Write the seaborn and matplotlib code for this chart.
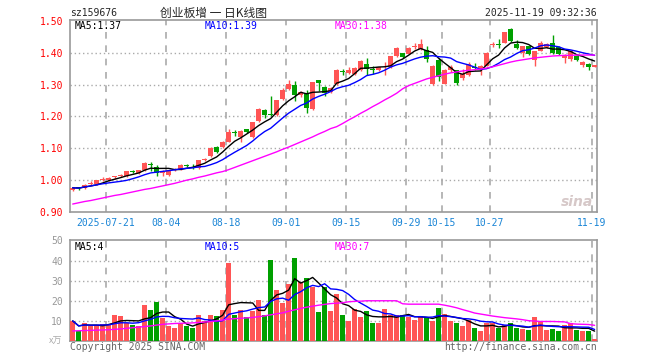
import numpy as np
import pandas as pd
import matplotlib
matplotlib.use("Agg")
import matplotlib.pyplot as plt
import seaborn as sns

# daily candles of sz159676 (07-11 .. 11-19)
opens = [0.970, 0.976, 0.975, 0.988, 0.988, 1.002, 1.000, 1.009, 1.014, 1.013,
         1.029, 1.022, 1.031, 1.050, 1.041, 1.021, 1.015, 1.031, 1.035, 1.049,
         1.045, 1.038, 1.062, 1.075, 1.104, 1.104, 1.121, 1.151, 1.137, 1.160,
         1.135, 1.186, 1.220, 1.208, 1.204, 1.254, 1.285, 1.298, 1.269, 1.275,
         1.222, 1.314, 1.293, 1.277, 1.301, 1.341, 1.337, 1.334, 1.345, 1.364,
         1.348, 1.345, 1.354, 1.355, 1.389, 1.399, 1.397, 1.419, 1.411, 1.409,
         1.301, 1.376, 1.303, 1.345, 1.345, 1.322, 1.329, 1.354, 1.345, 1.360,
         1.425, 1.427, 1.432, 1.476, 1.428, 1.401, 1.420, 1.378, 1.407, 1.418,
         1.430, 1.418, 1.384, 1.381, 1.389, 1.361, 1.366, 1.357]
closes = [0.976, 0.974, 0.986, 0.991, 1.000, 1.005, 1.008, 1.011, 1.016, 1.028,
          1.027, 1.031, 1.055, 1.047, 1.024, 1.028, 1.031, 1.036, 1.049, 1.043,
          1.043, 1.062, 1.068, 1.102, 1.090, 1.121, 1.150, 1.148, 1.155, 1.151,
          1.182, 1.222, 1.206, 1.206, 1.251, 1.283, 1.301, 1.268, 1.277, 1.227,
          1.307, 1.305, 1.275, 1.290, 1.347, 1.339, 1.345, 1.352, 1.374, 1.350,
          1.346, 1.355, 1.356, 1.389, 1.416, 1.386, 1.416, 1.421, 1.429, 1.381,
          1.360, 1.324, 1.345, 1.357, 1.305, 1.332, 1.366, 1.352, 1.360, 1.401,
          1.427, 1.425, 1.464, 1.436, 1.416, 1.420, 1.395, 1.405, 1.432, 1.428,
          1.399, 1.395, 1.394, 1.407, 1.376, 1.372, 1.355, 1.361]
highs = [0.980, 0.980, 0.988, 0.996, 1.002, 1.010, 1.010, 1.013, 1.020, 1.030,
         1.033, 1.033, 1.056, 1.057, 1.049, 1.031, 1.032, 1.038, 1.050, 1.052,
         1.050, 1.063, 1.070, 1.104, 1.106, 1.123, 1.161, 1.158, 1.157, 1.162,
         1.184, 1.226, 1.225, 1.264, 1.253, 1.290, 1.314, 1.311, 1.281, 1.282,
         1.309, 1.315, 1.296, 1.292, 1.349, 1.350, 1.355, 1.354, 1.376, 1.385,
         1.360, 1.357, 1.370, 1.391, 1.418, 1.401, 1.418, 1.430, 1.442, 1.423,
         1.362, 1.385, 1.350, 1.362, 1.347, 1.350, 1.371, 1.368, 1.362, 1.403,
         1.433, 1.444, 1.466, 1.478, 1.441, 1.422, 1.422, 1.407, 1.437, 1.431,
         1.457, 1.420, 1.396, 1.409, 1.391, 1.374, 1.368, 1.363]
lows = [0.966, 0.970, 0.973, 0.984, 0.986, 0.998, 0.998, 1.005, 1.010, 1.011,
        1.024, 1.019, 1.029, 1.030, 1.014, 1.014, 1.012, 1.029, 1.033, 1.040,
        1.035, 1.036, 1.060, 1.073, 1.086, 1.101, 1.119, 1.140, 1.121, 1.148,
        1.133, 1.184, 1.195, 1.203, 1.202, 1.252, 1.283, 1.248, 1.261, 1.210,
        1.220, 1.280, 1.265, 1.275, 1.299, 1.330, 1.335, 1.331, 1.343, 1.330,
        1.335, 1.343, 1.330, 1.353, 1.386, 1.383, 1.395, 1.412, 1.409, 1.371,
        1.299, 1.310, 1.301, 1.340, 1.300, 1.315, 1.327, 1.345, 1.330, 1.358,
        1.418, 1.415, 1.430, 1.434, 1.413, 1.387, 1.393, 1.360, 1.405, 1.416,
        1.397, 1.393, 1.368, 1.374, 1.374, 1.357, 1.347, 1.355]
volumes = [10, 5, 9, 7.5, 8, 8.5, 8, 13, 12.5, 9,
           8, 7.5, 18, 15.5, 19.5, 11.5, 7.5, 6.5, 9, 7.5,
           6.5, 13, 10, 13, 12.5, 15.5, 39, 13, 15.5, 12,
           15, 20.5, 13, 40.5, 25.5, 19, 28.5, 41.5, 29.5, 31.5,
           27, 14.5, 27, 15, 23.3, 12.8, 9.8, 15.8, 11.8, 14.8,
           8.8, 8.8, 15.8, 12.8, 12.8, 12.8, 11.8, 10.3, 12.3, 11.8,
           9.8, 16.3, 13.3, 9.8, 8.8, 7.3, 10.3, 6.3, 4.8, 8.8,
           8.8, 6.3, 7.8, 8.8, 6.3, 5.8, 5.3, 11.8, 9.3, 5.3,
           5.8, 4.8, 7.8, 8.8, 5.3, 4.8, 4.8, 0.8]
# 30-day averages as drawn (they need history from before the window)
ma30_price = [0.925, 0.929, 0.933, 0.936, 0.940, 0.944, 0.948, 0.952, 0.955, 0.959,
              0.963, 0.967, 0.971, 0.974, 0.978, 0.982, 0.986, 0.990, 0.995, 1.000,
              1.004, 1.009, 1.013, 1.018, 1.023, 1.027, 1.033, 1.040, 1.047, 1.054,
              1.061, 1.068, 1.075, 1.082, 1.089, 1.097, 1.104, 1.112, 1.120, 1.128,
              1.136, 1.145, 1.153, 1.162, 1.168, 1.178, 1.189, 1.199, 1.210, 1.220,
              1.231, 1.241, 1.252, 1.262, 1.273, 1.287, 1.297, 1.304, 1.311, 1.318,
              1.323, 1.328, 1.333, 1.337, 1.340, 1.343, 1.345, 1.347, 1.349, 1.352,
              1.356, 1.361, 1.366, 1.371, 1.375, 1.378, 1.381, 1.384, 1.386, 1.388,
              1.390, 1.391, 1.392, 1.392, 1.393, 1.393, 1.393, 1.393]
ma30_vol = [5.0, 5.1, 5.2, 5.3, 5.4, 5.5, 5.6, 5.8, 6.0, 6.3,
            6.6, 6.9, 7.2, 7.5, 7.9, 8.3, 8.5, 8.7, 8.8, 8.9,
            9.0, 9.2, 9.4, 9.7, 10.0, 10.4, 10.9, 11.1, 11.3, 11.5,
            11.7, 12.1, 12.5, 13.0, 13.5, 14.0, 14.8, 15.5, 16.2, 16.8,
            17.3, 17.8, 18.2, 18.6, 18.8, 19.0, 19.5, 19.7, 19.8, 20.0,
            20.0, 20.0, 20.0, 20.0, 20.0, 18.5, 18.3, 18.3, 18.3, 18.3,
            18.3, 18.3, 17.8, 17.2, 16.5, 15.6, 14.8, 13.9, 13.4, 12.9,
            12.4, 12.0, 11.6, 11.3, 11.0, 10.6, 10.1, 9.9, 9.7, 9.7,
            9.7, 9.6, 9.5, 8.6, 8.4, 8.3, 8.2, 7.8]
tick_days = ['2025-07-21', '2025-08-04', '2025-08-18', '2025-09-01', '2025-09-15',
             '2025-09-29', '2025-10-15', '2025-10-27', '2025-11-19']
tick_labels = ['2025-07-21', '08-04', '08-18', '09-01', '09-15',
               '09-29', '10-15', '10-27', '11-19']

RED = '#ff5555'
GREEN = '#00a000'
GRID = '#aaaaaa'
MONO = 'DejaVu Sans Mono'

days = pd.bdate_range('2025-07-11', '2025-11-19')
days = days[(days < '2025-10-01') | (days > '2025-10-08')]  # national day holiday
df = pd.DataFrame({'day': days, 'open': opens, 'close': closes, 'high': highs,
                   'low': lows, 'vol': volumes})
df['k'] = np.arange(len(df))
df['up'] = df['close'] >= df['open']
df['ma5'] = df['close'].rolling(5, min_periods=1).mean()
df['ma10'] = df['close'].rolling(10, min_periods=1).mean()
df['vma5'] = df['vol'].rolling(5, min_periods=1).mean()
df['vma10'] = df['vol'].rolling(10, min_periods=1).mean()

sns.set_theme(style='white')
plt.rcParams['font.family'] = [MONO, 'Noto Sans CJK SC']

fig = plt.figure(figsize=(6.6, 3.6), dpi=100)
ax1 = fig.add_axes([70 / 660, 1 - 212 / 360, 527 / 660, 192 / 360])
ax2 = fig.add_axes([70 / 660, 1 - 341 / 360, 527 / 660, 101 / 360])

colors = np.where(df['up'], RED, GREEN)

# candles
ax1.vlines(df['k'], df['low'], df['high'], colors=colors, linewidth=1, zorder=3)
body_lo = df[['open', 'close']].min(axis=1)
body_h = (df['close'] - df['open']).abs().clip(lower=0.003)
ax1.bar(df['k'], body_h, bottom=body_lo, width=0.8, color=colors, linewidth=0, zorder=3)

sns.lineplot(x=df['k'], y=df['ma5'], ax=ax1, color='black', linewidth=1, zorder=4)
sns.lineplot(x=df['k'], y=df['ma10'], ax=ax1, color='#0000ff', linewidth=1, zorder=4)
sns.lineplot(x=df['k'], y=ma30_price, ax=ax1, color='#ff00ff', linewidth=1, zorder=4)

# volume
ax2.bar(df['k'], df['vol'], width=0.8, color=colors, linewidth=0, zorder=3)
sns.lineplot(x=df['k'], y=df['vma5'], ax=ax2, color='black', linewidth=1, zorder=4)
sns.lineplot(x=df['k'], y=df['vma10'], ax=ax2, color='#0000ff', linewidth=1, zorder=4)
sns.lineplot(x=df['k'], y=ma30_vol, ax=ax2, color='#ff00ff', linewidth=1, zorder=4)

day_str = list(df['day'].dt.strftime('%Y-%m-%d'))
grid_x = [day_str.index(d) - 0.45 for d in tick_days]

for ax in (ax1, ax2):
    ax.set_xlim(-0.45, 87.4)
    ax.set_xlabel('')
    ax.set_ylabel('')
    for x in grid_x:
        ax.axvline(x, color=GRID, linewidth=1.2, linestyle=(0, (4, 4)), zorder=1)
    for s in ax.spines.values():
        s.set_color('#999999')
        s.set_linewidth(1.2)
    ax.tick_params(axis='y', length=3, color='#999999', pad=2, labelsize=7)

ax1.set_ylim(0.90, 1.5031)
ax1.set_yticks([0.9, 1.0, 1.1, 1.2, 1.3, 1.4, 1.5])
ax1.set_yticklabels(['%.2f' % v for v in [0.9, 1.0, 1.1, 1.2, 1.3, 1.4, 1.5]], color='#ff0000')
for v in [1.0, 1.1, 1.2, 1.3, 1.4]:
    ax1.axhline(v, color=GRID, linewidth=1, linestyle=(0, (1, 2)), zorder=1)
ax1.set_xticks(grid_x)
ax1.set_xticklabels(tick_labels, color='#1a85d6', fontsize=7)
ax1.tick_params(axis='x', length=0, pad=4)

ax2.set_ylim(0, 50.2)
ax2.set_yticks([10, 20, 30, 40, 50])
ax2.set_yticklabels(['10', '20', '30', '40', '50'], color='#999999')
for v in [10, 20, 30, 40]:
    ax2.axhline(v, color=GRID, linewidth=1, linestyle=(0, (1, 2)), zorder=1)
ax2.set_xticks([])


def px(x, y):
    return x / 660, 1 - y / 360


fs = 7
fig.text(*px(70, 13), 'sz159676', fontsize=fs, va='center', ha='left')
fig.text(*px(213, 13), '创业板增 一 日K线图', fontsize=8.5, va='center', ha='center',
         family=['Noto Sans CJK SC', 'DejaVu Sans'])
fig.text(*px(597, 13), '2025-11-19 09:32:36', fontsize=fs, va='center', ha='right')

fig.text(*px(75, 26), 'MA5:1.37', fontsize=fs, va='center', color='black')
fig.text(*px(205, 26), 'MA10:1.39', fontsize=fs, va='center', color='#0000ff')
fig.text(*px(335, 26), 'MA30:1.38', fontsize=fs, va='center', color='#ff00ff')
fig.text(*px(75, 247), 'MA5:4', fontsize=fs, va='center', color='black')
fig.text(*px(205, 247), 'MA10:5', fontsize=fs, va='center', color='#0000ff')
fig.text(*px(335, 247), 'MA30:7', fontsize=fs, va='center', color='#ff00ff')

fig.text(*px(62, 341), 'x万', fontsize=6.5, va='center', ha='right', color='#aaaaaa',
         family=['Noto Sans CJK SC', 'DejaVu Sans'])
fig.text(*px(70, 347), 'Copyright 2025 SINA.COM', fontsize=fs, va='center', color='#666666')
fig.text(*px(597, 347), 'http://finance.sina.com.cn', fontsize=fs, va='center',
         ha='right', color='#666666')
fig.text(*px(577, 202), 'sina', fontsize=10, va='center', ha='center', color='#d6c8c8',
         style='italic', weight='bold', family='DejaVu Sans')

fig.savefig('out.png', dpi=100)
